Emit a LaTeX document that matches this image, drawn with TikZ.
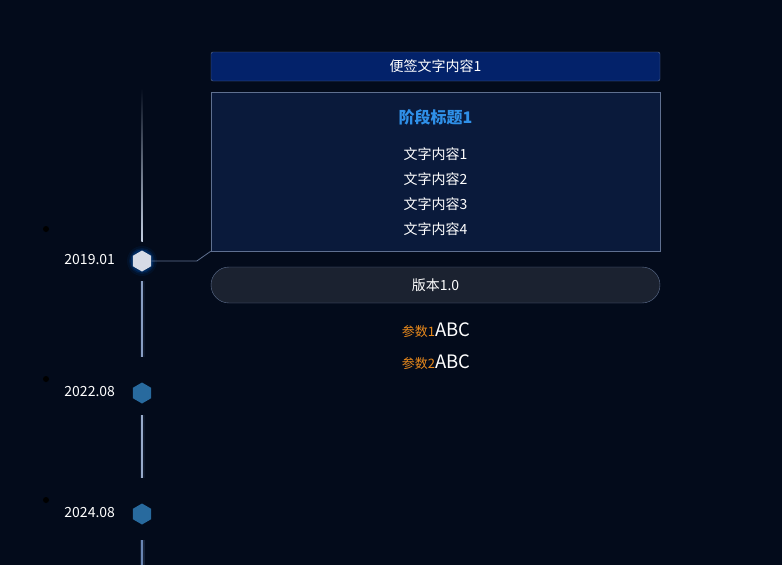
\documentclass[tikz,border=0pt]{standalone}
\usepackage{fontspec}
\setmainfont{Noto Sans CJK SC}
\usetikzlibrary{shapes.geometric,positioning}
\definecolor{pagebg}{HTML}{030B1B}
\definecolor{stickfill}{HTML}{03226A}
\definecolor{cardfill}{HTML}{0A1A3B}
\definecolor{pillfill}{HTML}{1B2230}
\definecolor{rimgray}{HTML}{5F7090}
\definecolor{hexblue}{HTML}{286A9E}
\definecolor{hexpale}{HTML}{D6DBE6}
\definecolor{titleblue}{HTML}{2F90E8}
\definecolor{paramorange}{HTML}{E8891C}
\definecolor{axisblue}{HTML}{6A86B4}
\tikzset{
  stickbox/.style={rectangle, draw=rimgray, fill=stickfill, rounded corners=2pt,
    minimum width=449pt, minimum height=29pt, text=white, font=\fontsize{14}{16}\selectfont},
  stagecard/.style={rectangle, draw=rimgray, fill=cardfill,
    minimum width=449pt, minimum height=159pt},
  versionpill/.style={rectangle, draw=rimgray, fill=pillfill, rounded corners=18pt,
    minimum width=449pt, minimum height=36pt, text=white, font=\fontsize{14}{16}\selectfont},
  hexmark/.style={regular polygon, regular polygon sides=6, shape border rotate=30,
    minimum size=21pt, inner sep=0pt},
  hexnow/.style={hexmark, fill=hexpale},
  hexnext/.style={hexmark, fill=hexblue},
  datelabel/.style={anchor=east, text=white, font=\fontsize{14}{16}\selectfont},
  lineitem/.style={text=white, font=\fontsize{14}{16}\selectfont},
  listdot/.style={circle, fill=black, inner sep=0pt, minimum size=6pt},
  axisglow/.style={line width=5pt, axisblue, opacity=0.10},
  axisline/.style={line width=1.3pt, axisblue},
}
\newcommand{\paramline}[1]{{\fontsize{13}{15}\selectfont\color{paramorange}参数#1}{\fontsize{18.5}{20}\selectfont\color{white}ABC}}

\begin{document}
\begin{tikzpicture}[x=1pt, y=-1pt]
    \fill[pagebg] (0,0) rectangle (782,565);
    \useasboundingbox (0,0) rectangle (782,565);

    % time axis
    \coordinate (a0) at (142,88);
    \coordinate (a1) at (142,241);
    \coordinate (a2) at (142,281);
    \coordinate (a3) at (142,357);
    \coordinate (a4) at (142,415);
    \coordinate (a5) at (142,478);
    \coordinate (a6) at (142,540);
    \coordinate (a7) at (142,565);
    \shade[top color=pagebg, bottom color=axisblue!40!white] (141.3,88) rectangle (142.9,241);
    \draw[axisglow] (a2) -- (a3);
    \draw[axisline, axisblue!80] (a2) -- (a3);
    \draw[axisglow] (a4) -- (a5);
    \draw[axisline, axisblue!70] (a4) -- (a5);
    \draw[axisglow, opacity=0.2] (a6) -- (a7);
    \draw[axisline] (a6) -- (a7);

    % markers
    \foreach \r/\o in {15/0.06, 13/0.10, 11.5/0.18} {
        \fill[blue!55!cyan, opacity=\o] (142,261) circle (\r pt);
    }
    \node[hexnow] (h1) at (142,261) {};
    \node[hexnext] (h2) at (142,393) {};
    \node[hexnext] (h3) at (142,514) {};
    \node[datelabel] (d1) at (118.5,260) {2019.01};
    \node[datelabel] (d2) at (118.5,392) {2022.08};
    \node[datelabel] (d3) at (118.5,513) {2024.08};
    \node[listdot] (p1) at (46,229) {};
    \node[listdot] (p2) at (46,379) {};
    \node[listdot] (p3) at (46,500) {};

    % stage content
    \node[stickbox] (note) at (435.5,66.5) {便签文字内容1};
    \node[stagecard] (card) at (435.5,171.5) {};
    \node[text=titleblue, font=\fontsize{16}{18}\selectfont\bfseries] (title) at (435.5,117) {阶段标题1};
    \node[lineitem] (l1) at (435.5,154) {文字内容1};
    \node[lineitem] (l2) at (435.5,179) {文字内容2};
    \node[lineitem] (l3) at (435.5,204) {文字内容3};
    \node[lineitem] (l4) at (435.5,229) {文字内容4};
    \node[versionpill] (ver) at (435.5,285) {版本1.0};
    \node (q1) at (436,330) {\paramline{1}};
    \node (q2) at (436,362) {\paramline{2}};

    \draw[rimgray, line width=0.8pt]
        (h1.east) -- ([xshift=-14pt]card.south west |- h1.east) -- (card.south west);
\end{tikzpicture}
\end{document}
